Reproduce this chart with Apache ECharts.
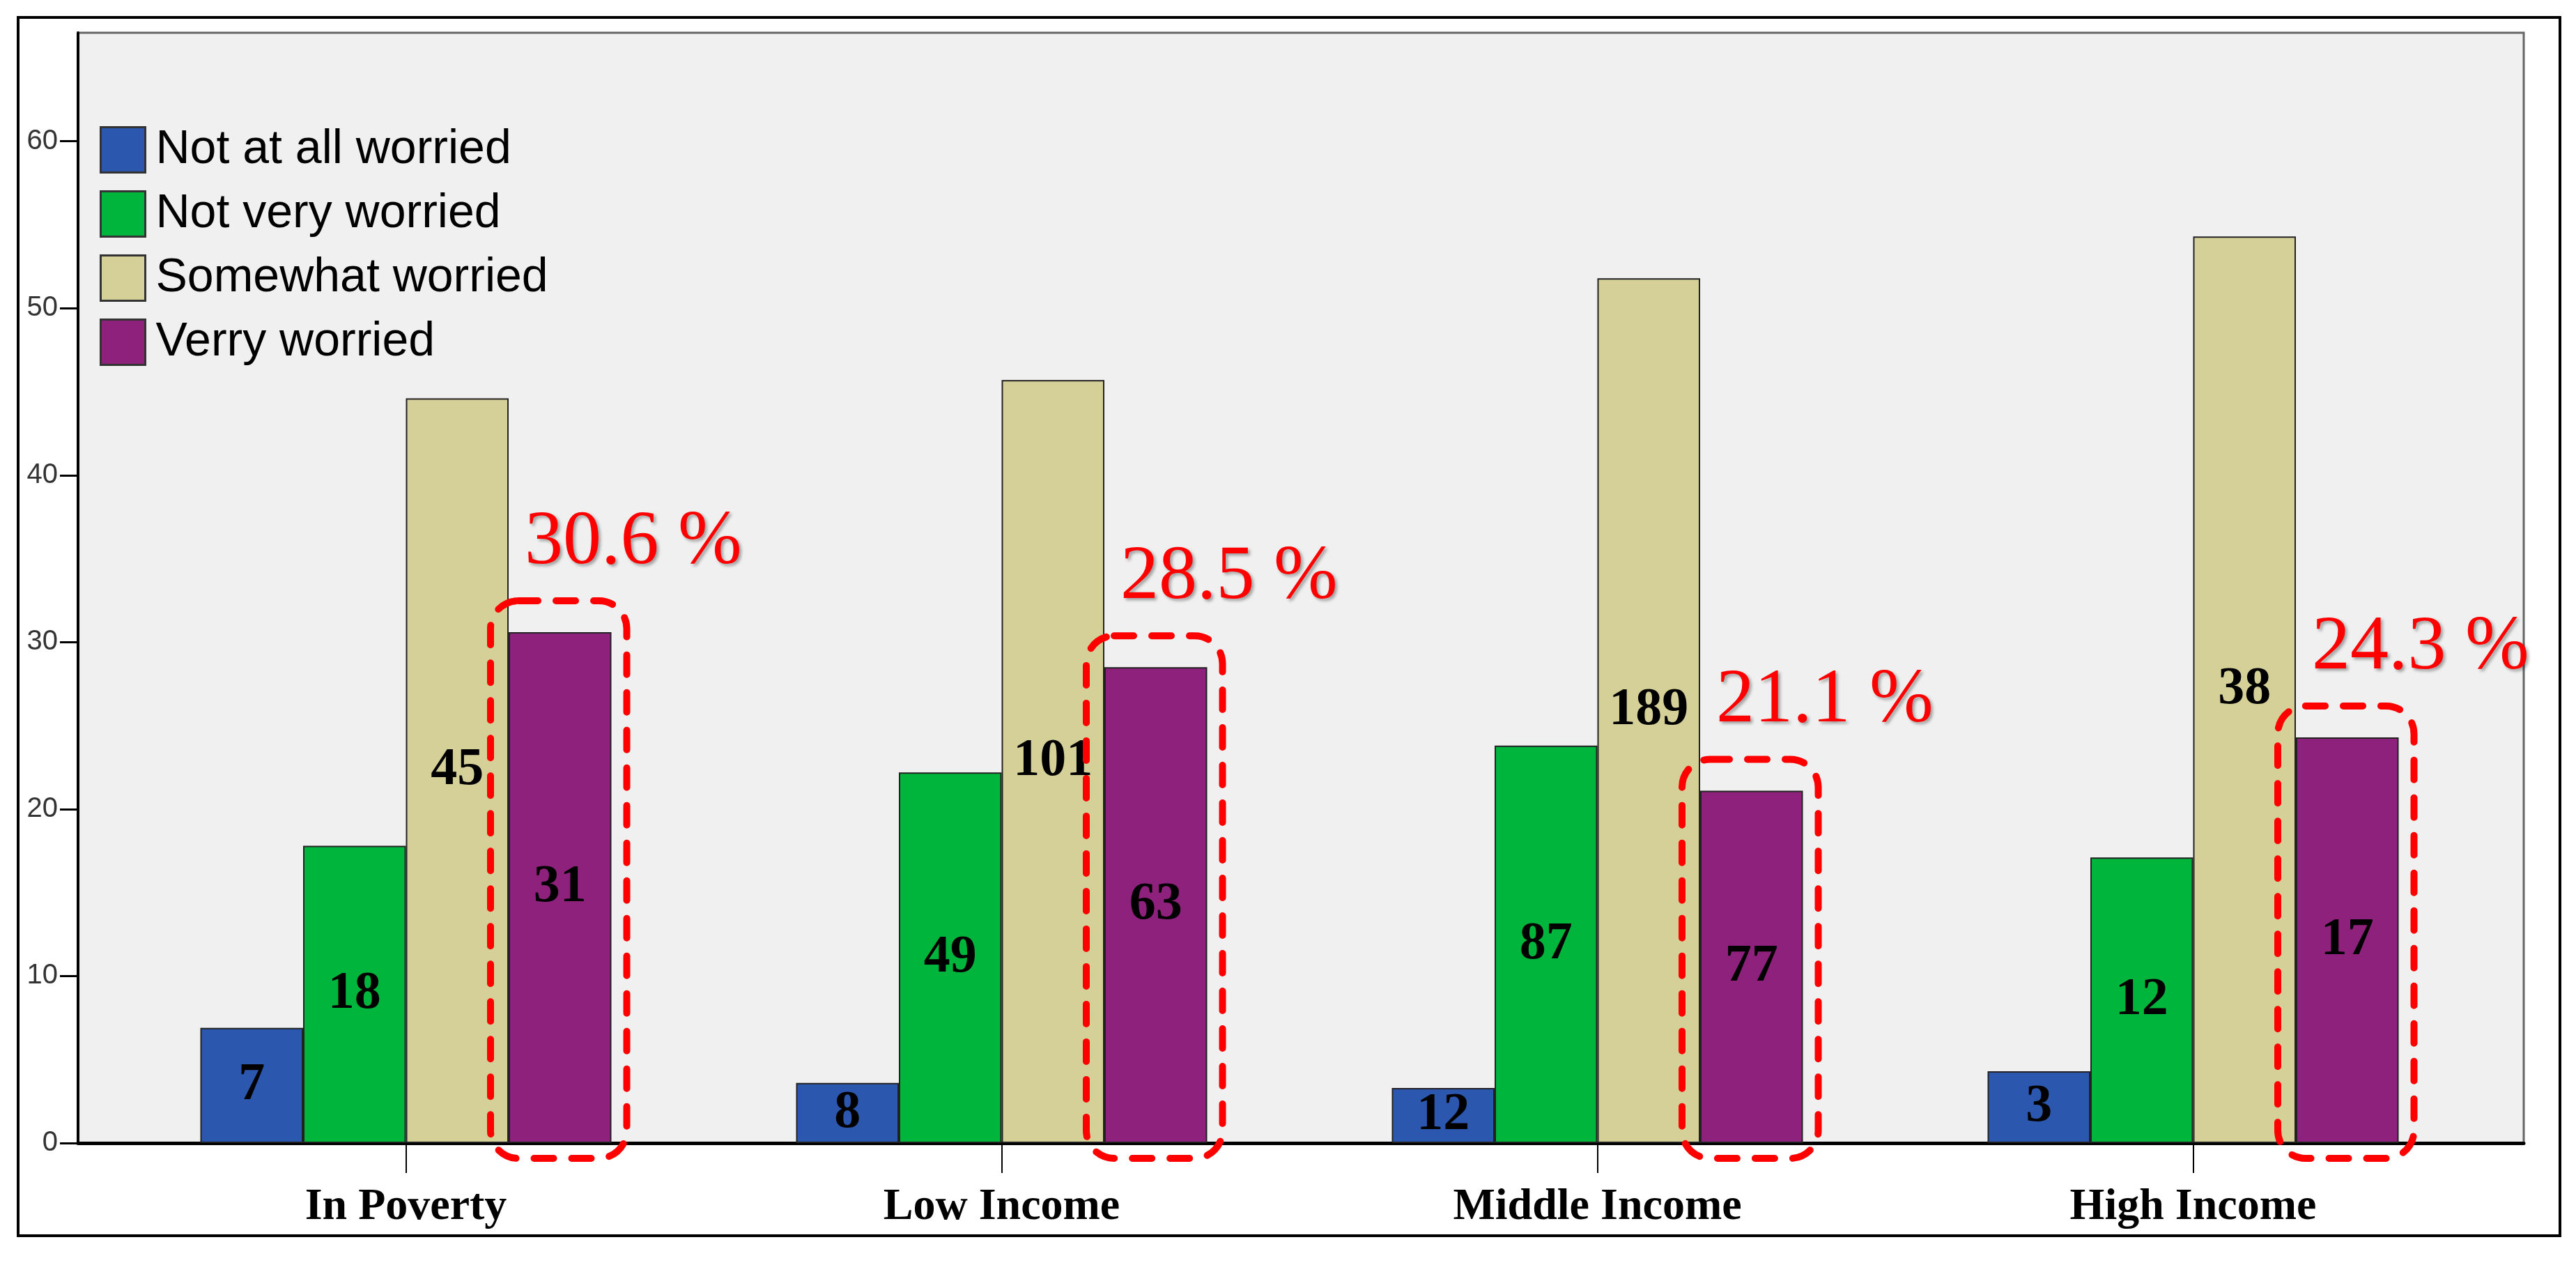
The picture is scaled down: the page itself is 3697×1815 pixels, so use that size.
<!DOCTYPE html>
<html>
<head>
<meta charset="utf-8">
<script src="https://cdn.jsdelivr.net/npm/echarts@6/dist/echarts.min.js"></script>
<style>
html, body { margin: 0; padding: 0; background: #fff; }
#main { width: 3697px; height: 1815px; }
</style>
</head>
<body>
<div id="main"></div>
<script>
var categories = ['In Poverty', 'Low Income', 'Middle Income', 'High Income'];
var seriesNames = ['Not at all worried', 'Not very worried', 'Somewhat worried', 'Verry worried'];
// bar heights (percent within each income group)
var notAtAll = [6.9, 3.6, 3.3, 4.3];
var notVery = [17.8, 22.2, 23.8, 17.1];
var somewhat = [44.6, 45.7, 51.8, 54.3];
var verry = [30.6, 28.5, 21.1, 24.3];
// counts written inside the bars
var notAtAllCount = [7, 8, 12, 3];
var notVeryCount = [18, 49, 87, 12];
var somewhatCount = [45, 101, 189, 38];
var verryCount = [31, 63, 77, 17];
// red call-outs above the "Verry worried" bars
var verryPercentText = ['30.6 %', '28.5 %', '21.1 %', '24.3 %'];
var yTicks = [0, 10, 20, 30, 40, 50, 60];
var yMax = 66.5;

var BAR_W = 147.5;
var colors = ['#2c57ae', '#00b53c', '#d5d098', '#8e217b'];

var chart = echarts.init(document.getElementById('main'));

function barSeries(idx, values, counts) {
	return {
		name: seriesNames[idx],
		type: 'bar',
		xAxisIndex: 1,
		yAxisIndex: 1,
		barWidth: BAR_W,
		barGap: '0%',
		data: values.map(function (v, i) {
			return { value: v, count: counts[i] };
		}),
		itemStyle: { color: colors[idx], borderColor: '#222', borderWidth: 2 },
		label: {
			show: true,
			position: 'inside',
			formatter: function (p) { return p.data.count; },
			color: '#000',
			fontFamily: '"Liberation Serif", "DejaVu Serif", serif',
			fontWeight: 'bold',
			fontSize: 76
		}
	};
}

var option = {
	backgroundColor: '#fff',
	animation: false,
	graphic: [{
		type: 'rect',
		z: -10,
		shape: { x: 26, y: 25, width: 3648, height: 1748 },
		style: { fill: 'none', stroke: '#000', lineWidth: 4 }
	}],
	legend: {
		data: seriesNames,
		orient: 'vertical',
		left: 138,
		top: 176,
		icon: 'rect',
		itemWidth: 64,
		itemHeight: 65,
		itemGap: 24,
		itemStyle: { borderColor: '#333', borderWidth: 3 },
		textStyle: {
			fontFamily: '"Liberation Sans", Arial, sans-serif',
			fontSize: 68,
			color: '#000',
			lineHeight: 65,
			padding: [0, 0, 0, 10]
		}
	},
	grid: [
		// plot frame with the visible y axis
		{ left: 112, right: 75, top: 47, bottom: 175, show: true, backgroundColor: '#f0f0f0', borderColor: '#666', borderWidth: 3 },
		// bar area
		{ left: 155, right: 122, top: 47, bottom: 175 }
	],
	xAxis: [
		{
			gridIndex: 0, type: 'value', min: 0, max: 1,
			axisLine: { show: true, lineStyle: { color: '#000', width: 5 } },
			axisTick: { show: false }, axisLabel: { show: false }, splitLine: { show: false }
		},
		{
			gridIndex: 1, type: 'category', data: categories,
			axisLine: { show: false },
			axisTick: { show: true, alignWithLabel: true, length: 43, lineStyle: { color: '#000', width: 2 } },
			axisLabel: {
				margin: 60,
				color: '#000',
				fontFamily: '"Liberation Serif", "DejaVu Serif", serif',
				fontWeight: 'bold',
				fontSize: 64
			},
			splitLine: { show: false }
		}
	],
	yAxis: [
		{
			gridIndex: 0, type: 'value', min: 0, max: yMax,
			axisLine: { show: true, lineStyle: { color: '#000', width: 4 } },
			axisTick: { show: true, length: 26, customValues: yTicks, lineStyle: { color: '#000', width: 3 } },
			axisLabel: {
				customValues: yTicks,
				margin: 29,
				color: '#333',
				fontFamily: '"Liberation Sans", Arial, sans-serif',
				fontSize: 40
			},
			splitLine: { show: false }
		},
		{
			gridIndex: 1, type: 'value', min: 0, max: yMax, show: false,
			splitLine: { show: false }
		}
	],
	series: [
		barSeries(0, notAtAll, notAtAllCount),
		barSeries(1, notVery, notVeryCount),
		barSeries(2, somewhat, somewhatCount),
		barSeries(3, verry, verryCount),
		{
			// dashed box round the "Verry worried" bar and its percent label
			type: 'custom',
			xAxisIndex: 1,
			yAxisIndex: 1,
			z: 5,
			clip: false,
			silent: true,
			data: verry.map(function (v, i) { return [i, v]; }),
			renderItem: function (params, api) {
				var top = api.coord([api.value(0), api.value(1)]);
				var base = api.coord([api.value(0), 0]);
				var cx = top[0] + 1.5 * BAR_W;
				var x0 = cx - BAR_W / 2 - 26;
				var x1 = cx + BAR_W / 2 + 22;
				var y0 = top[1] - 45;
				var y1 = base[1] + 22;
				return {
					type: 'group',
					children: [{
						type: 'rect',
						shape: { x: x0, y: y0, width: x1 - x0, height: y1 - y0, r: 40 },
						style: { fill: 'none', stroke: '#ff0000', lineWidth: 10, lineDash: [28, 26], lineCap: 'round' }
					}, {
						type: 'text',
						x: cx + 105,
						y: top[1] - 128,
						style: {
							text: verryPercentText[params.dataIndex],
							fill: '#ff0000',
							font: '110px "Liberation Serif", "DejaVu Serif", serif',
							align: 'center',
							verticalAlign: 'middle',
							textAlign: 'center',
							textVerticalAlign: 'middle',
							shadowColor: 'rgba(0,0,0,0.35)',
							shadowBlur: 4,
							shadowOffsetX: 3,
							shadowOffsetY: 3,
							textShadowColor: 'rgba(0,0,0,0.35)',
							textShadowBlur: 4,
							textShadowOffsetX: 3,
							textShadowOffsetY: 3
						}
					}]
				};
			}
		}
	]
};

chart.setOption(option);
</script>
</body>
</html>
